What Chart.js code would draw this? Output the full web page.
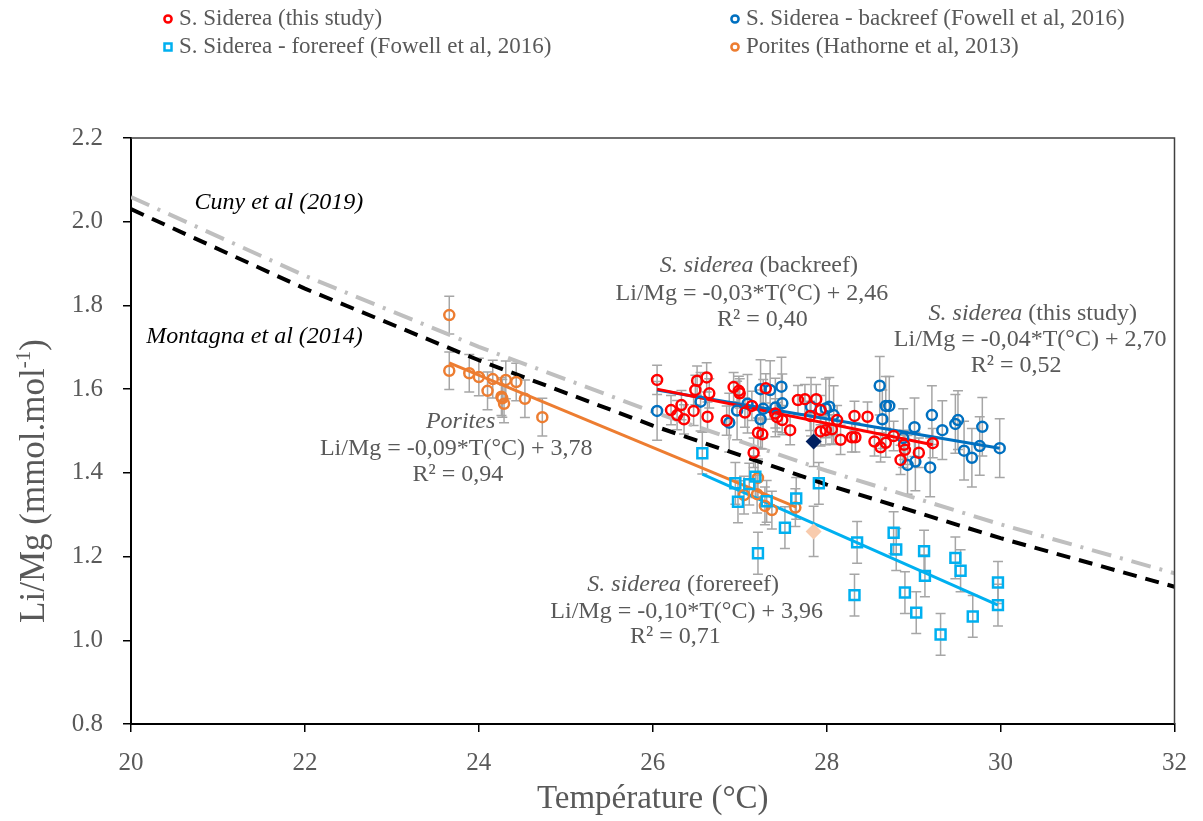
<!DOCTYPE html>
<html>
<head>
<meta charset="utf-8">
<script src="https://cdn.jsdelivr.net/npm/chart.js@4/dist/chart.umd.min.js"></script>
<style>
html,body{margin:0;padding:0;background:#fff;}
#wrap{width:1203px;height:821px;position:relative;}
</style>
</head>
<body>
<div id="wrap"><canvas id="c" width="1203" height="821"></canvas></div>
<script>
// ---------- DATA ----------
const xTicks = [20, 22, 24, 26, 28, 30, 32];
const yTicks = [0.8, 1.0, 1.2, 1.4, 1.6, 1.8, 2.0, 2.2];

const seriesLabels = [
  'S. Siderea (this study)',
  'S. Siderea - backreef (Fowell et al, 2016)',
  'S. Siderea - forereef (Fowell et al, 2016)',
  'Porites (Hathorne et al, 2013)'
];

const thisStudyT = [26.05,26.51,26.62,26.49,26.65,26.21,26.33,26.28,26.36,26.47,26.63,26.93,26.99,27.00,26.85,27.06,27.14,27.21,27.26,27.16,27.30,27.41,27.43,27.49,27.58,27.67,27.75,27.88,27.93,27.81,27.93,28.12,28.06,27.99,28.16,28.29,28.33,28.32,28.47,28.55,28.62,28.68,28.77,28.85,28.89,28.90,29.06,29.22];
const thisStudyLiMg = [1.622,1.620,1.628,1.598,1.590,1.550,1.562,1.538,1.528,1.548,1.534,1.605,1.596,1.590,1.525,1.544,1.560,1.496,1.492,1.448,1.602,1.542,1.533,1.526,1.502,1.574,1.576,1.576,1.550,1.536,1.499,1.526,1.504,1.502,1.479,1.485,1.485,1.536,1.534,1.475,1.461,1.472,1.488,1.431,1.467,1.455,1.448,1.471];

const backreefT = [26.05,26.55,26.88,26.97,27.09,27.24,27.35,27.48,27.24,27.27,27.41,27.49,27.82,27.99,28.03,28.08,28.61,28.68,28.72,28.64,28.88,28.93,29.02,29.01,29.19,29.21,29.33,29.48,29.51,29.58,29.67,29.76,29.79,29.99];
const backreefLiMg = [1.548,1.570,1.520,1.549,1.565,1.600,1.598,1.606,1.528,1.553,1.556,1.566,1.558,1.554,1.558,1.538,1.608,1.560,1.560,1.528,1.483,1.419,1.427,1.509,1.413,1.538,1.502,1.517,1.526,1.453,1.436,1.464,1.510,1.459];

const forereefT = [26.57,26.95,27.11,27.18,26.98,27.31,27.65,27.52,27.21,27.91,28.35,28.32,28.77,28.80,28.90,29.03,29.12,29.13,29.31,29.48,29.54,29.68,29.97,29.97];
const forereefLiMg = [1.447,1.375,1.373,1.391,1.331,1.332,1.339,1.269,1.208,1.375,1.234,1.108,1.257,1.217,1.114,1.066,1.213,1.154,1.014,1.197,1.166,1.057,1.138,1.084];

const poritesT = [23.66,23.66,23.89,24.00,24.10,24.16,24.26,24.27,24.29,24.31,24.43,24.53,24.73,27.21,27.05,27.20,27.29,27.37,27.64];
const poritesLiMg = [1.777,1.644,1.638,1.629,1.596,1.624,1.582,1.578,1.565,1.622,1.617,1.577,1.533,1.388,1.347,1.349,1.321,1.311,1.317];

// one-sigma error bar per series (mmol/mol)
const errThisStudy = 0.035;
const errBackreef = 0.07;
const errForereef = 0.05;
const errPorites = 0.045;
const errMean = 0.06;

// mean values (diamonds)
const meanT = [27.85];
const meanThisStudyLiMg = [1.475];
const meanForereefLiMg = [1.260];

// regression lines (end points)
const thisStudyTrendT = [26.05, 29.22];
const thisStudyTrendLiMg = [1.600, 1.467];
const backreefTrendT = [26.05, 29.99];
const backreefTrendLiMg = [1.598, 1.459];
const forereefTrendT = [26.57, 29.97];
const forereefTrendLiMg = [1.397, 1.084];
const poritesTrendT = [23.66, 27.65];
const poritesTrendLiMg = [1.663, 1.318];

// published calibrations
const calibT = [20, 22, 24, 26, 28, 30, 32];
const montagnaLiMg = [2.030, 1.840, 1.669, 1.513, 1.372, 1.244, 1.128];
const cunyLiMg = [2.059, 1.871, 1.701, 1.546, 1.405, 1.277, 1.160];

// ---------- HELPERS ----------
const FONT = "'Liberation Serif', 'Times New Roman', 'DejaVu Serif', serif";
const GREY_TXT = '#595959';
const C_RED = '#FF0000', C_BLUE = '#0070C0', C_CYAN = '#00B0F0', C_ORANGE = '#ED7D31';

function pts(xs, ys) { return xs.map((x, i) => ({x: x, y: ys[i]})); }

const pointDatasets = [
  {label: seriesLabels[0], data: pts(thisStudyT, thisStudyLiMg), pointStyle: 'circle', pointRadius: 5, borderColor: C_RED, err: errThisStudy},
  {label: seriesLabels[1], data: pts(backreefT, backreefLiMg), pointStyle: 'circle', pointRadius: 5, borderColor: C_BLUE, err: errBackreef},
  {label: seriesLabels[2], data: pts(forereefT, forereefLiMg), pointStyle: 'rect', pointRadius: 7, borderColor: C_CYAN, err: errForereef},
  {label: seriesLabels[3], data: pts(poritesT, poritesLiMg), pointStyle: 'circle', pointRadius: 5, borderColor: C_ORANGE, err: errPorites}
].map(d => Object.assign(d, {backgroundColor: 'rgba(255,255,255,0)', pointBorderWidth: 2.5, borderWidth: 2.5, showLine: false}));

const meanDatasets = [
  {label: 'mean this study', data: pts(meanT, meanThisStudyLiMg), pointStyle: 'rectRot', pointRadius: 8, backgroundColor: '#002060', borderColor: '#002060', err: errMean},
  {label: 'mean forereef', data: pts(meanT, meanForereefLiMg), pointStyle: 'rectRot', pointRadius: 8, backgroundColor: '#F8CBAD', borderColor: '#F8CBAD', err: errMean}
].map(d => Object.assign(d, {showLine: false, borderWidth: 0}));

function lineDs(label, xs, ys, color, width, dash) {
  return {label: label, data: pts(xs, ys), showLine: true, borderColor: color, borderWidth: width,
    borderDash: dash || [], pointRadius: 0, fill: false, tension: 0};
}
const trendDatasets = [
  lineDs('trend this study', thisStudyTrendT, thisStudyTrendLiMg, C_RED, 3),
  lineDs('trend backreef', backreefTrendT, backreefTrendLiMg, C_BLUE, 3),
  lineDs('trend forereef', forereefTrendT, forereefTrendLiMg, C_CYAN, 3),
  lineDs('trend porites', poritesTrendT, poritesTrendLiMg, C_ORANGE, 3)
];
const calibDatasets = [
  lineDs('Montagna et al (2014)', calibT, montagnaLiMg, '#000000', 4, [14, 9]),
  lineDs('Cuny et al (2019)', calibT, cunyLiMg, '#BFBFBF', 4, [20, 9, 3, 9])
];

// text annotations, anchored in data coordinates (T, Li/Mg), centred
const annotations = [
  {x: 21.70, y: 2.045, color: '#000', segs: [{t: 'Cuny et al (2019)', it: true}]},
  {x: 21.42, y: 1.725, color: '#000', segs: [{t: 'Montagna et al (2014)', it: true}]},

  {x: 27.22, y: 1.894, segs: [{t: 'S. siderea', it: true}, {t: ' (backreef)'}]},
  {x: 27.14, y: 1.827, segs: [{t: 'Li/Mg = -0,03*T(°C) + 2,46'}]},
  {x: 27.26, y: 1.765, segs: [{t: 'R² = 0,40'}]},

  {x: 30.37, y: 1.780, segs: [{t: 'S. siderea', it: true}, {t: ' (this study)'}]},
  {x: 30.34, y: 1.717, segs: [{t: 'Li/Mg = -0,04*T(°C) + 2,70'}]},
  {x: 30.18, y: 1.655, segs: [{t: 'R² = 0,52'}]},

  {x: 23.79, y: 1.522, segs: [{t: 'Porites', it: true}]},
  {x: 23.74, y: 1.457, segs: [{t: 'Li/Mg = -0,09*T(°C) + 3,78'}]},
  {x: 23.76, y: 1.395, segs: [{t: 'R² = 0,94'}]},

  {x: 26.35, y: 1.132, segs: [{t: 'S. siderea', it: true}, {t: ' (forereef)'}]},
  {x: 26.39, y: 1.068, segs: [{t: 'Li/Mg = -0,10*T(°C) + 3,96'}]},
  {x: 26.26, y: 1.008, segs: [{t: 'R² = 0,71'}]}
];

// ---------- PLUGINS ----------
const errorBarPlugin = {
  id: 'errorBars',
  beforeDatasetsDraw(chart) {
    const ctx = chart.ctx, xs = chart.scales.x, ys = chart.scales.y;
    ctx.save();
    ctx.strokeStyle = '#A6A6A6';
    ctx.lineWidth = 1.5;
    chart.data.datasets.forEach(ds => {
      if (!ds.err) return;
      ds.data.forEach(p => {
        const px = xs.getPixelForValue(p.x);
        const y1 = ys.getPixelForValue(p.y + ds.err);
        const y2 = ys.getPixelForValue(p.y - ds.err);
        ctx.beginPath();
        ctx.moveTo(px, y1); ctx.lineTo(px, y2);
        ctx.moveTo(px - 5, y1); ctx.lineTo(px + 5, y1);
        ctx.moveTo(px - 5, y2); ctx.lineTo(px + 5, y2);
        ctx.stroke();
      });
    });
    ctx.restore();
  }
};

const framePlugin = {
  id: 'frame',
  afterDraw(chart) {
    const {ctx, chartArea: a} = chart;
    ctx.save();
    ctx.strokeStyle = '#404040';
    ctx.lineWidth = 1.5;
    ctx.beginPath();
    ctx.moveTo(a.left, a.top); ctx.lineTo(a.right, a.top); ctx.lineTo(a.right, a.bottom);
    ctx.stroke();
    ctx.restore();
  }
};

const annotationPlugin = {
  id: 'annot',
  afterDatasetsDraw(chart) {
    const ctx = chart.ctx, xs = chart.scales.x, ys = chart.scales.y;
    ctx.save();
    ctx.textBaseline = 'middle';
    ctx.textAlign = 'left';
    annotations.forEach(a => {
      const cx = xs.getPixelForValue(a.x), cy = ys.getPixelForValue(a.y);
      let total = 0;
      a.segs.forEach(s => { ctx.font = (s.it ? 'italic ' : '') + '24px ' + FONT; s.w = ctx.measureText(s.t).width; total += s.w; });
      let x = cx - total / 2;
      a.segs.forEach(s => {
        ctx.font = (s.it ? 'italic ' : '') + '24px ' + FONT;
        ctx.fillStyle = a.color || GREY_TXT;
        ctx.fillText(s.t, x, cy);
        x += s.w;
      });
    });
    ctx.restore();
  }
};

// y-axis title with a true superscript
const yTitlePlugin = {
  id: 'yTitle',
  afterDraw(chart) {
    const ctx = chart.ctx, a = chart.chartArea;
    const parts = [
      {t: 'Li/Mg (mmol.mol', size: 35, dy: 0},
      {t: '-1', size: 21, dy: -11},
      {t: ')', size: 35, dy: 0}
    ];
    ctx.save();
    ctx.translate(35, (a.top + a.bottom) / 2 + 50);
    ctx.rotate(-Math.PI / 2);
    ctx.textBaseline = 'middle';
    ctx.textAlign = 'left';
    ctx.fillStyle = GREY_TXT;
    let total = 0;
    parts.forEach(p => { ctx.font = p.size + 'px ' + FONT; p.w = ctx.measureText(p.t).width; total += p.w; });
    let x = -total / 2;
    parts.forEach(p => { ctx.font = p.size + 'px ' + FONT; ctx.fillText(p.t, x, p.dy); x += p.w; });
    ctx.restore();
  }
};

const legendPlugin = {
  id: 'customLegend',
  afterDraw(chart) {
    const ctx = chart.ctx;
    const slots = [{x: 168, y: 19}, {x: 735, y: 19}, {x: 168, y: 47}, {x: 735, y: 47}];
    const order = [0, 1, 2, 3];
    ctx.save();
    ctx.textBaseline = 'middle';
    ctx.font = '23px ' + FONT;
    order.forEach((di, k) => {
      const ds = chart.data.datasets[di];
      const s = slots[k];
      ctx.strokeStyle = ds.borderColor;
      ctx.lineWidth = 2.5;
      ctx.beginPath();
      if (ds.pointStyle === 'rect') ctx.rect(s.x - 3.5, s.y - 3.5, 7, 7);
      else ctx.arc(s.x, s.y, 3.6, 0, Math.PI * 2);
      ctx.stroke();
      ctx.fillStyle = GREY_TXT;
      ctx.fillText(ds.label, s.x + 11, s.y);
    });
    ctx.restore();
  }
};

// ---------- CHART ----------
const tickFont = {family: FONT, size: 25};
new Chart(document.getElementById('c'), {
  type: 'scatter',
  data: {datasets: [...pointDatasets, ...meanDatasets, ...trendDatasets, ...calibDatasets]},
  options: {
    responsive: false,
    animation: false,
    devicePixelRatio: 1,
    layout: {padding: {top: 138, right: 27, bottom: 0, left: 0}},
    plugins: {legend: {display: false}, tooltip: {enabled: false}},
    scales: {
      x: {
        type: 'linear', min: xTicks[0], max: xTicks[xTicks.length - 1],
        afterBuildTicks: s => { s.ticks = xTicks.map(v => ({value: v})); },
        afterFit: s => { s.height = 97; },
        grid: {drawOnChartArea: false, drawTicks: true, tickLength: 8, color: '#000', lineWidth: 1.5},
        border: {display: true, color: '#000', width: 2},
        ticks: {color: GREY_TXT, font: tickFont, padding: 16, callback: v => String(v)},
        title: {display: true, text: 'Température (°C)', color: GREY_TXT, font: {family: FONT, size: 33}, padding: {top: 0, bottom: 2}}
      },
      y: {
        type: 'linear', min: yTicks[0], max: yTicks[yTicks.length - 1],
        afterBuildTicks: s => { s.ticks = yTicks.map(v => ({value: v})); },
        afterFit: s => { s.width = 131; },
        grid: {drawOnChartArea: false, drawTicks: true, tickLength: 8, color: '#000', lineWidth: 1.5},
        border: {display: true, color: '#000', width: 2},
        ticks: {color: GREY_TXT, font: tickFont, padding: 20, callback: v => Number(v).toFixed(1)},
        title: {display: false}
      }
    }
  },
  plugins: [errorBarPlugin, annotationPlugin, framePlugin, yTitlePlugin, legendPlugin]
});
</script>
</body>
</html>
